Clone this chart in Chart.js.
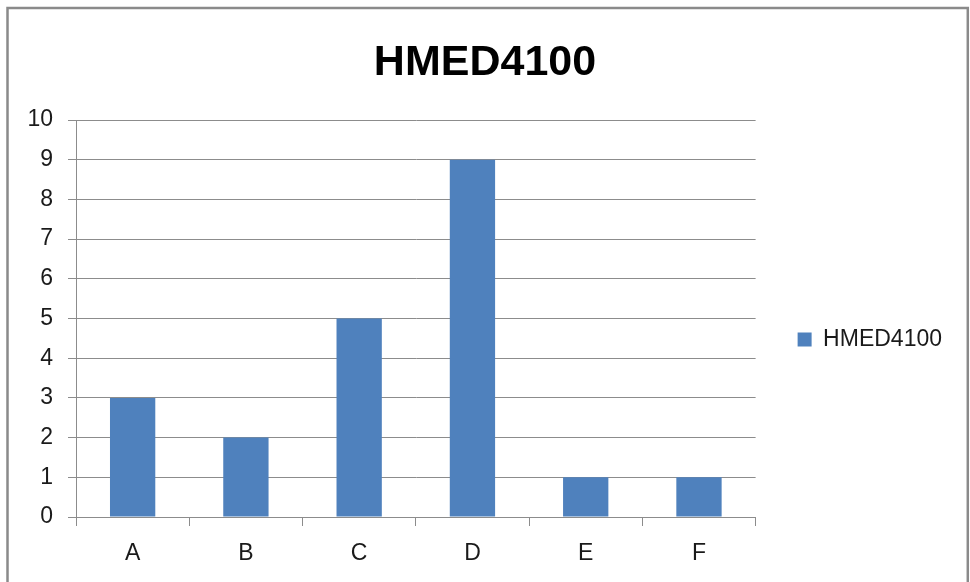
<!DOCTYPE html>
<html>
<head>
<meta charset="utf-8">
<script src="https://cdn.jsdelivr.net/npm/chart.js@4.4.1/dist/chart.umd.min.js"></script>
<style>
  html, body { margin: 0; padding: 0; background: #ffffff; }
  #wrap { position: relative; width: 970px; height: 582px; }
</style>
</head>
<body>
<div id="wrap"><canvas id="chart" width="970" height="582"></canvas></div>
<script>
// Chart content
const chartTitle = 'HMED4100';
const categories = ['A', 'B', 'C', 'D', 'E', 'F'];
const seriesName = 'HMED4100';
const seriesValues = [3, 2, 5, 9, 1, 1];
const yTicks = [0, 1, 2, 3, 4, 5, 6, 7, 8, 9, 10];

const FONT = "'Liberation Sans', Arial, sans-serif";
const GRID = '#8c8c8c';

Chart.defaults.font.family = FONT;
Chart.defaults.color = '#1a1a1a';

// Outer frame of the chart panel
const framePlugin = {
  id: 'frame',
  afterDraw(chart) {
    const ctx = chart.ctx;
    ctx.save();
    ctx.strokeStyle = '#8a8a8a';
    ctx.lineWidth = 2.5;
    ctx.strokeRect(7.5, 8, 960.3, 640);
    ctx.restore();
  }
};

// Centre the title on the whole panel and sit the legend a little
// below the middle of its column
const layoutTweaks = {
  id: 'layoutTweaks',
  afterLayout(chart) {
    const tb = chart.titleBlock;
    if (tb) {
      tb.left = 0;
      tb.right = chart.width;
    }
    const lg = chart.legend;
    if (lg) {
      lg.top += 30;
      lg.bottom += 30;
    }
  }
};

new Chart(document.getElementById('chart'), {
  type: 'bar',
  data: {
    labels: categories,
    datasets: [{
      label: seriesName,
      data: seriesValues,
      backgroundColor: '#4f81bd',
      borderWidth: 0,
      barPercentage: 0.4,
      categoryPercentage: 1.0
    }]
  },
  options: {
    responsive: false,
    animation: false,
    devicePixelRatio: 1,
    layout: { padding: { top: 37, left: 0, right: 18, bottom: 0 } },
    plugins: {
      title: {
        display: true,
        text: chartTitle,
        color: '#000000',
        font: { size: 43, weight: 'bold', family: FONT },
        padding: { top: 0, bottom: 31.4 }
      },
      legend: {
        position: 'right',
        labels: {
          boxWidth: 14,
          boxHeight: 14,
          padding: 42,
          color: '#1a1a1a',
          font: { size: 23, family: FONT }
        }
      },
      tooltip: { enabled: false }
    },
    scales: {
      x: {
        offset: true,
        grid: {
          offset: true,
          drawOnChartArea: false,
          drawTicks: true,
          tickLength: 9,
          color: GRID,
          lineWidth: 1
        },
        border: { display: true, color: GRID, width: 1 },
        ticks: { color: '#1a1a1a', font: { size: 23 }, padding: 14 },
        afterFit(scale) { scale.height = 65; }
      },
      y: {
        min: 0,
        max: 10,
        afterBuildTicks(scale) { scale.ticks = yTicks.map(v => ({ value: v })); },
        grid: { color: GRID, lineWidth: 1, tickLength: 8, drawTicks: true },
        border: { display: true, color: GRID, width: 1 },
        ticks: { color: '#1a1a1a', font: { size: 23 }, padding: 15 },
        afterFit(scale) { scale.width = 76; }
      }
    }
  },
  plugins: [framePlugin, layoutTweaks]
});
</script>
</body>
</html>
